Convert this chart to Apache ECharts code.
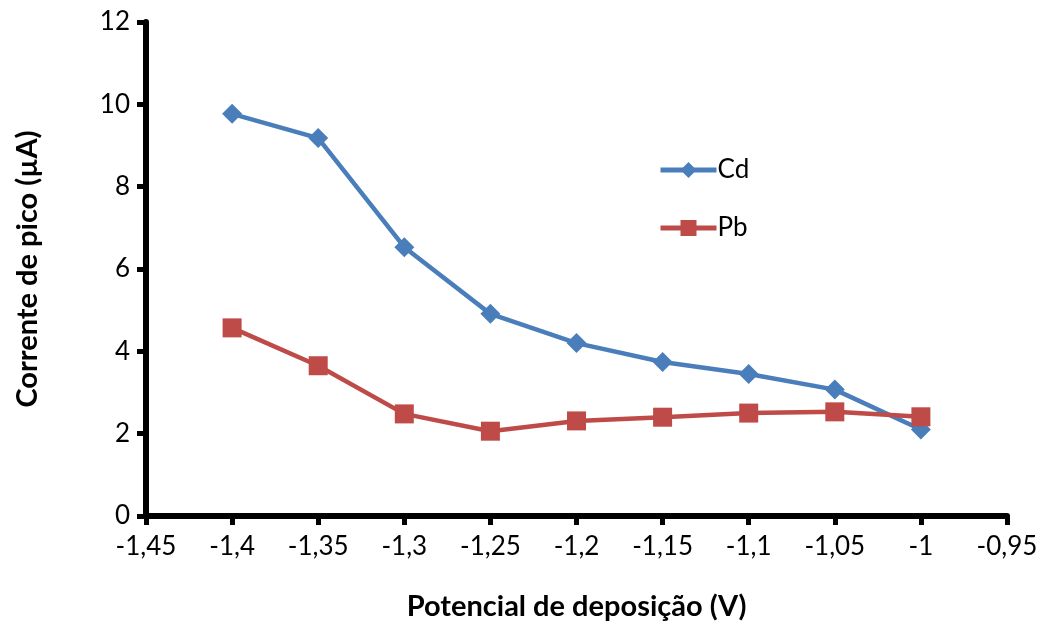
<!DOCTYPE html>
<html><head><meta charset="utf-8">
<script src="https://cdn.jsdelivr.net/npm/echarts@6/dist/echarts.min.js"></script>
<style>html,body{margin:0;padding:0;background:#fff}#c{width:1046px;height:622px}</style>
</head><body><div id="c"></div>
<script>
const potentials = [-1.4, -1.35, -1.3, -1.25, -1.2, -1.15, -1.1, -1.05, -1.0];
const cd = [9.77, 9.18, 6.53, 4.91, 4.20, 3.74, 3.45, 3.07, 2.10];
const pb = [4.57, 3.65, 2.48, 2.06, 2.31, 2.40, 2.50, 2.53, 2.41];
const xTitle = 'Potencial de deposição (V)';
const yTitle = 'Corrente de pico (µA)';
const font = 'Lato';
const fmt = v => String(Number(v.toFixed(2))).replace('.', ',');
const chart = echarts.init(document.getElementById('c'));
chart.setOption({
  animation: false,
  grid: {left: 146, right: 39, top: 22, bottom: 106, outerBoundsMode: 'none', containLabel: false},
  legend: {
    orient: 'vertical', left: 653, top: 152, itemGap: 32,
    itemWidth: 56, itemHeight: 20,
    lineStyle: {width: 5},
    textStyle: {fontFamily: font, fontSize: 26, color: '#000', padding: [0,0,0,-4]},
    data: ['Cd', 'Pb']
  },
  xAxis: {
    type: 'value', min: -1.45, max: -0.95, interval: 0.05,
    name: xTitle, nameLocation: 'middle', nameGap: 76,
    nameTextStyle: {fontFamily: font, fontSize: 29, fontWeight: 'bold', color: '#000'},
    axisLine: {show: true, onZero: false, lineStyle: {color: '#000', width: 6}},
    axisTick: {show: true, inside: false, length: 9, lineStyle: {color: '#000', width: 5}},
    axisLabel: {fontFamily: font, fontSize: 26, color: '#000', margin: 18, formatter: fmt},
    splitLine: {show: false}
  },
  yAxis: {
    type: 'value', min: 0, max: 12, interval: 2,
    name: yTitle, nameLocation: 'middle', nameGap: 104, nameRotate: 90,
    nameTextStyle: {fontFamily: font, fontSize: 29, fontWeight: 'bold', color: '#000'},
    axisLine: {show: true, onZero: false, lineStyle: {color: '#000', width: 6}},
    axisTick: {show: true, length: 9, lineStyle: {color: '#000', width: 5}},
    axisLabel: {fontFamily: font, fontSize: 26, color: '#000', margin: 16},
    splitLine: {show: false}
  },
  series: [
    {name: 'Cd', type: 'line', data: potentials.map((x, i) => [x, cd[i]]),
     symbol: 'diamond', symbolSize: 20, color: '#4a7ebb',
     lineStyle: {width: 4.5, color: '#4a7ebb'}, itemStyle: {color: '#4a7ebb'}},
    {name: 'Pb', type: 'line', data: potentials.map((x, i) => [x, pb[i]]),
     symbol: 'rect', symbolSize: 19, color: '#be4b48',
     lineStyle: {width: 4.5, color: '#be4b48'}, itemStyle: {color: '#be4b48'}}
  ]
});
</script></body></html>
